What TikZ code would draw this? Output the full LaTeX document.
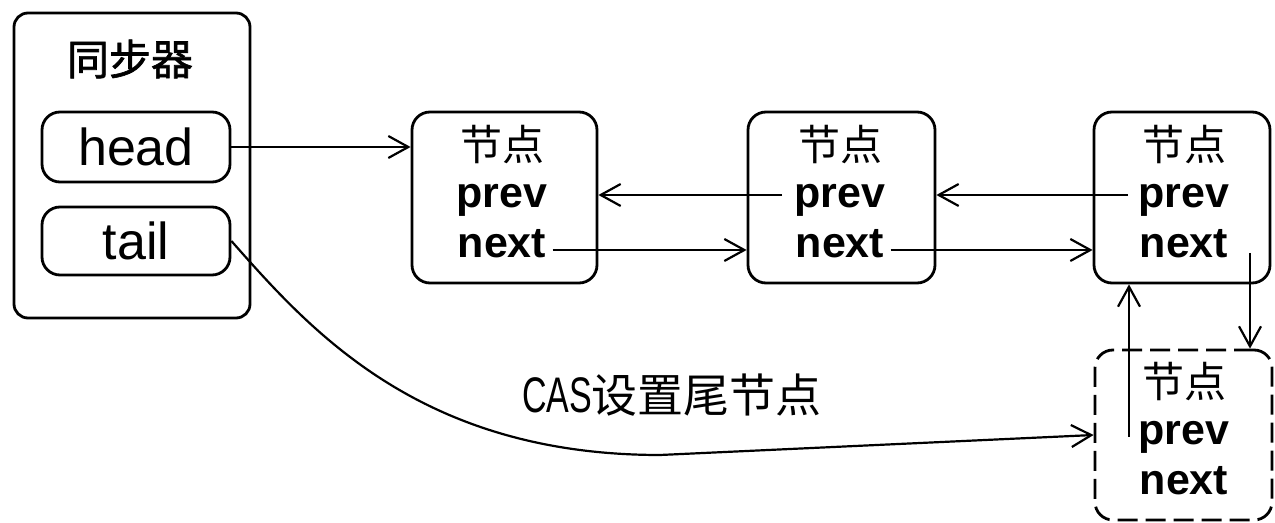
\documentclass[tikz,border=0pt]{standalone}
\usepackage{fontspec}
\setmainfont{Liberation Sans}
\newfontfamily\cjk{Noto Sans CJK SC}
\newfontfamily\cjkfb[FakeBold=1.5]{Noto Sans CJK SC}
\usepackage{graphicx}
\usetikzlibrary{arrows.meta}
\begin{document}
\begin{tikzpicture}[x=0.5pt,y=-0.5pt,
  box/.style={draw, line width=1.4pt, rounded corners=9pt, inner sep=0pt},
  dbox/.style={box, dash pattern=on 10pt off 4pt},
  arr/.style={line width=1.1pt, -{Straight Barb[length=10pt,width=11pt,line width=1.1pt]}},
  cj/.style={font=\cjk\fontsize{21pt}{21pt}\selectfont, inner sep=0pt},
  fld/.style={font=\bfseries\fontsize{21.5pt}{21.5pt}\selectfont, anchor=base, inner sep=0pt},
  var/.style={font=\fontsize{26pt}{26pt}\selectfont, inner sep=0pt}
]
\useasboundingbox (0,0) rectangle (1275,523);
% synchronizer
\node[box, rounded corners=7pt, minimum width=118pt, minimum height=152.5pt] (sync) at (132,165.5) {};
\node[cj, font=\cjkfb\fontsize{21pt}{21pt}\selectfont] (title) at (130,59) {同步器};
\node[box, minimum width=94pt, minimum height=35pt] (head) at (136,147) {};
\node[var] (headt) at (136,147) {head};
\node[box, minimum width=94pt, minimum height=34pt] (tail) at (136,241) {};
\node[var] (tailt) at (136,241) {tail};
% nodes
\node[box, minimum width=92.5pt, minimum height=85.5pt] (n1) at (504.5,197.5) {};
\node[box, minimum width=93.5pt, minimum height=85.5pt] (n2) at (841.5,197.5) {};
\node[box, minimum width=88pt, minimum height=85.5pt] (n3) at (1182,197.5) {};
\node[dbox, minimum width=88.5pt, minimum height=85pt] (n4) at (1183.5,435) {};
\foreach \i/\x/\y in {1/502/0, 2/840/0, 3/1184/0, 4/1184/237}{
  \node[cj] (n\i t) at (\x,145+\y) {节点};
  \node[fld] (n\i p) at (\x,208+\y) {prev};
  \node[fld] (n\i n) at (\x,258+\y) {next};
}
% connectors
\draw[arr] (head.east) -- (n1.west |- head.east);
\draw[arr] ([xshift=-6pt,yshift=6.5pt]n2p.base west) -- ([yshift=6.5pt]n2p.base west -| n1.east);
\draw[arr] ([xshift=3pt,yshift=4pt]n1n.base east) -- ([yshift=4pt]n1n.base east -| n2.west);
\draw[arr] ([xshift=-5pt,yshift=6.5pt]n3p.base west) -- ([yshift=6.5pt]n3p.base west -| n2.east);
\draw[arr] ([xshift=3pt,yshift=4pt]n2n.base east) -- ([yshift=4pt]n2n.base east -| n3.west);
\coordinate (c3) at (1250,253);
\draw[arr] (c3) -- (c3 |- n4.north);
\coordinate (c4) at (1129,437);
\draw[arr] (c4) -- (c4 |- n3.south);
\draw[arr] (tail.east) .. controls (310,330) and (420,455) .. (660,455) -- (n4.west);
\node[inner sep=0pt] (lab) at (672,395) {{\fontsize{25pt}{25pt}\selectfont\scalebox{0.68}[1]{CAS}}{\cjk\fontsize{23pt}{23pt}\selectfont 设置尾节点}};
\end{tikzpicture}
\end{document}
